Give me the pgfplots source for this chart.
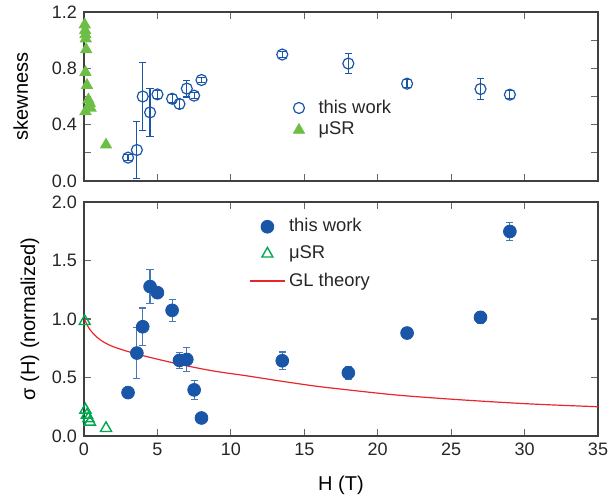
\documentclass[border=0pt]{standalone}
\usepackage{fontspec}
\setmainfont{Liberation Sans}
\usepackage{pgfplots}
\pgfplotsset{compat=1.18}
\definecolor{bl}{HTML}{1A56A8}
\definecolor{gnA}{HTML}{6CBF44}
\definecolor{gnB}{HTML}{00A84F}
\definecolor{rd}{HTML}{E8262C}

\pgfplotstableread{
x y e
3.0 0.166 0.02
3.6 0.22 0.20
4.0 0.60 0.24
4.5 0.487 0.17
5.0 0.615 0.03
6.0 0.584 0.03
6.5 0.547 0.03
7.0 0.656 0.06
7.5 0.606 0.02
8.0 0.717 0.02
13.5 0.898 0.02
18.0 0.834 0.07
22.0 0.691 0.03
27.0 0.653 0.076
29.0 0.613 0.03
}\skewwork
\pgfplotstableread{
x y
0.05 1.11
0.08 1.07
0.10 1.04
0.12 1.01
0.15 0.934
0.10 0.772
0.20 0.68
0.30 0.577
0.40 0.55
0.45 0.518
0.10 0.494
1.5 0.257
}\skewmusr
\pgfplotstableread{
x y e
3.0 0.371 0.0
3.6 0.709 0.22
4.0 0.934 0.16
4.5 1.277 0.145
5.0 1.225 0.0
6.0 1.074 0.095
6.5 0.646 0.07
7.0 0.654 0.10
7.5 0.394 0.08
8.0 0.154 0.0
13.5 0.643 0.075
18.0 0.54 0.055
22.0 0.88 0.02
27.0 1.014 0.05
29.0 1.748 0.074
}\sigwork
\pgfplotstableread{
x y
0.05 0.98
0.10 0.223
0.20 0.18
0.30 0.15
0.40 0.12
1.5 0.066
}\sigmusr

\begin{document}
\begin{tikzpicture}
\useasboundingbox (-42pt,-32.5pt) rectangle (262.5pt,218pt);
\pgfplotsset{
  every axis/.append style={
    scale only axis, width=257pt, xmin=0, xmax=35, xtick={0,5,...,35},
    axis line style={draw=black!75, line width=0.6pt},
    tick style={black!60, line width=0.6pt},
    major tick length=3.5pt, minor tick length=3.5pt, tick align=inside,
    tick label style={font=\fontsize{9}{9}\selectfont, text=black!85},
    label style={font=\fontsize{12}{12}\selectfont, text=black!85},
    /pgf/number format/assume math mode=true,
    legend cell align=left,
    legend style={draw=none, fill=none, font=\fontsize{9.2}{10}\selectfont, text=black!85},
  }
}
% top panel: skewness
\begin{axis}[at={(0,127.5pt)}, anchor=south west, height=84.5pt,
  ymin=0, ymax=1.2, ytick={0,0.4,0.8,1.2}, minor ytick={0.2,0.6,1.0},
  xticklabels={},
  yticklabel style={/pgf/number format/.cd,fixed,fixed zerofill,precision=1},
  ylabel={skewness},
  every axis y label/.style={at={(axis description cs:-0.123,0.5)}, rotate=90, anchor=center},
  legend style={at={(0.395,0.53)}, anchor=north west, row sep=-1pt,
    /tikz/every odd column/.append style={column sep=5pt}}]
\addplot[bl, only marks, mark=o, mark size=2.75pt, line width=0.6pt,
  error bars/.cd, y dir=both, y explicit,
  error bar style={line width=0.6pt},
  error mark options={rotate=90, mark size=1.8pt, line width=0.6pt}]
  table[x=x, y=y, y error=e] {\skewwork};
\addlegendentry{this work}
\addplot[only marks, mark=triangle*, mark size=3.2pt, color=gnA, fill=gnA]
  table[x=x, y=y] {\skewmusr};
\addlegendentry{μSR}
\end{axis}
% bottom panel: sigma
\begin{axis}[at={(0,0)}, anchor=south west, height=117pt,
  ymin=0, ymax=2, ytick={0,0.5,...,2},
  yticklabel style={/pgf/number format/.cd,fixed,fixed zerofill,precision=1},
  ylabel={σ (H) (normalized)}, xlabel={H (T)},
  every axis y label/.style={at={(axis description cs:-0.105,0.5)}, rotate=90, anchor=center},
  every axis x label/.style={at={(axis description cs:0.5,-0.209)}, anchor=center},
  legend style={at={(0.31,0.965)}, anchor=north west, row sep=1.5pt}]
\addplot[bl, only marks, mark=*, mark size=3.2pt,
  error bars/.cd, y dir=both, y explicit,
  error bar style={line width=0.6pt, bl!80},
  error mark options={rotate=90, mark size=1.8pt, line width=0.6pt, bl!80}]
  table[x=x, y=y, y error=e] {\sigwork};
\addlegendentry{this work}
\addplot[only marks, mark=triangle, mark size=3.2pt, line width=0.7pt, color=gnB]
  table[x=x, y=y] {\sigmusr};
\addlegendentry{μSR}
\addplot[rd, line width=0.6pt, smooth] coordinates {
(0.03,1.0) (0.4,0.91) (1.07,0.825) (2.0,0.763) (3.7,0.697) (6.5,0.613)
(8.8,0.556) (11.1,0.514) (13.3,0.471) (15.6,0.429) (17.2,0.405)
(21.3,0.35) (25.8,0.308) (30.4,0.274) (35,0.25)};
\addlegendentry{GL theory}
\end{axis}
\end{tikzpicture}
\end{document}
